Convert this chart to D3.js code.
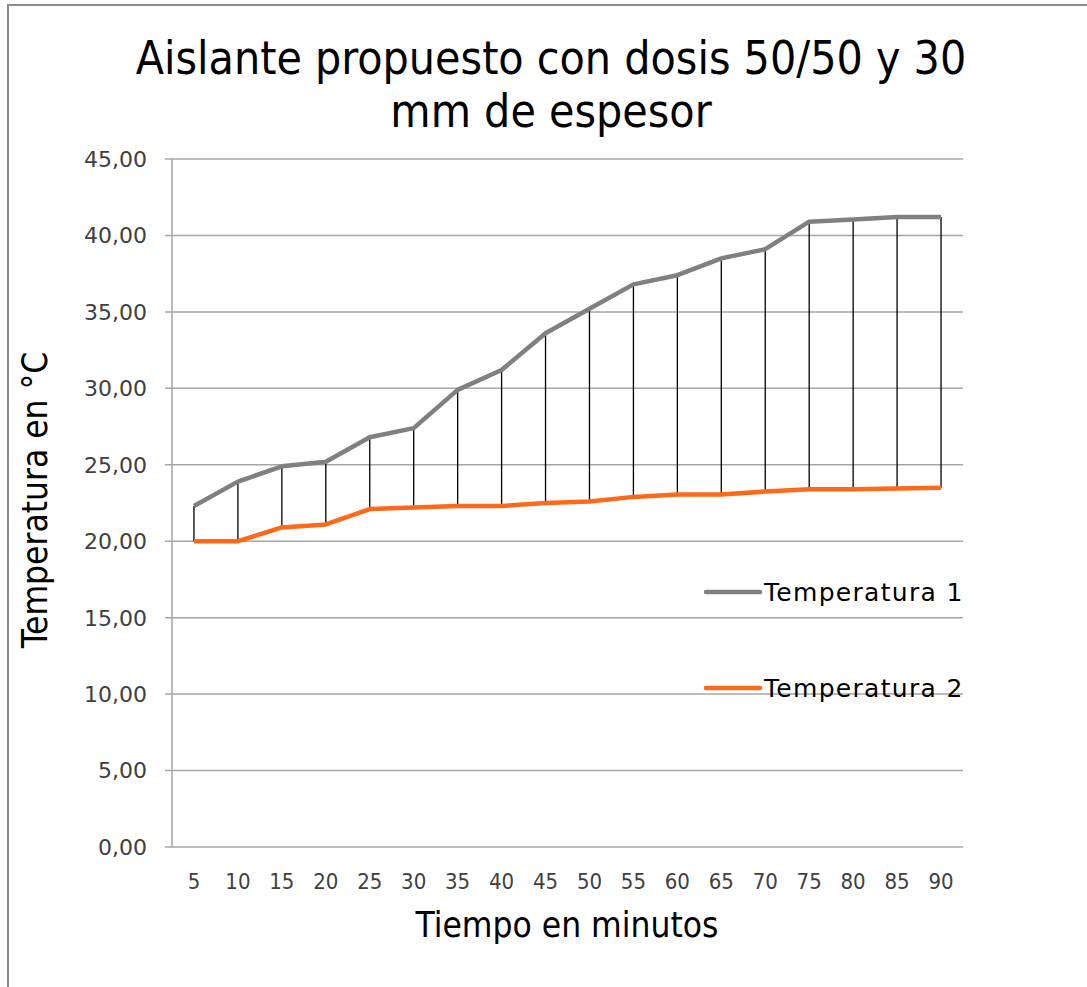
<!DOCTYPE html>
<html>
<head>
<meta charset="utf-8">
<script src="https://cdn.jsdelivr.net/npm/d3@7"></script>
<style>
  body { margin: 0; background: #fff; }
  svg { display: block; }
</style>
</head>
<body>
<svg width="1087" height="987"></svg>
<script>
var minutes = [5, 10, 15, 20, 25, 30, 35, 40, 45, 50, 55, 60, 65, 70, 75, 80, 85, 90];
var temp1 = [22.3, 23.9, 24.9, 25.2, 26.8, 27.4, 29.9, 31.2, 33.6, 35.2, 36.8, 37.4, 38.5, 39.1, 40.9, 41.05, 41.2, 41.2];
var temp2 = [20.0, 20.0, 20.9, 21.1, 22.1, 22.2, 22.3, 22.3, 22.5, 22.6, 22.9, 23.05, 23.05, 23.25, 23.4, 23.4, 23.45, 23.5];
var seriesNames = ["Temperatura 1", "Temperatura 2"];
var seriesColors = ["#7f7f84", "#ff6a1a"];
var yTicks = [0, 5, 10, 15, 20, 25, 30, 35, 40, 45];

var svg = d3.select("svg"),
    plotLeft = 172, plotRight = 963, plotTop = 159, plotBottom = 847;

var fmt = function (v) { return d3.format(".2f")(v).replace(".", ","); };

// frame
svg.append("rect")
    .attr("x", 8).attr("y", 5)
    .attr("width", 1200).attr("height", 1200)
    .attr("fill", "none")
    .attr("stroke", "#8c8c8c")
    .attr("stroke-width", 2);

var x = d3.scaleBand().domain(minutes).range([plotLeft, plotRight]);
var y = d3.scaleLinear().domain([0, 45]).range([plotBottom, plotTop]);

// grid
svg.append("g")
    .selectAll("line")
    .data(yTicks)
    .enter().append("line")
    .attr("x1", plotLeft - 7).attr("x2", plotRight)
    .attr("y1", function (d) { return y(d); })
    .attr("y2", function (d) { return y(d); })
    .attr("stroke", "#a6a6a6")
    .attr("stroke-width", 1.5);

svg.append("line")
    .attr("x1", plotLeft).attr("x2", plotLeft)
    .attr("y1", plotTop).attr("y2", plotBottom)
    .attr("stroke", "#a6a6a6")
    .attr("stroke-width", 1.5);

// y tick labels
svg.append("g")
    .selectAll("text")
    .data(yTicks)
    .enter().append("text")
    .attr("x", 147)
    .attr("y", function (d) { return y(d); })
    .attr("dy", "0.36em")
    .attr("text-anchor", "end")
    .attr("font-family", "DejaVu Sans, sans-serif")
    .attr("font-size", 22)
    .attr("fill", "#404040")
    .text(fmt);

// x tick labels
svg.append("g")
    .selectAll("text")
    .data(minutes)
    .enter().append("text")
    .attr("x", function (d) { return x(d) + x.bandwidth() / 2; })
    .attr("y", 889)
    .attr("text-anchor", "middle")
    .attr("font-family", "DejaVu Sans Condensed, sans-serif")
    .attr("font-size", 22)
    .attr("fill", "#404040")
    .text(function (d) { return d; });

// high-low lines
svg.append("g")
    .selectAll("line")
    .data(minutes)
    .enter().append("line")
    .attr("x1", function (d) { return x(d) + x.bandwidth() / 2; })
    .attr("x2", function (d) { return x(d) + x.bandwidth() / 2; })
    .attr("y1", function (d, i) { return y(temp1[i]); })
    .attr("y2", function (d, i) { return y(temp2[i]); })
    .attr("stroke", "#000")
    .attr("stroke-width", 1.3);

var line = d3.line()
    .x(function (d, i) { return x(minutes[i]) + x.bandwidth() / 2; })
    .y(function (d) { return y(d); });

[temp1, temp2].forEach(function (s, k) {
    svg.append("path")
        .datum(s)
        .attr("d", line)
        .attr("fill", "none")
        .attr("stroke", seriesColors[k])
        .attr("stroke-width", 4.5)
        .attr("stroke-linejoin", "round");
});

// legend
var legendY = [592, 688];
seriesNames.forEach(function (name, k) {
    svg.append("line")
        .attr("x1", 706).attr("x2", 760)
        .attr("y1", legendY[k]).attr("y2", legendY[k])
        .attr("stroke", seriesColors[k])
        .attr("stroke-width", 4.5)
        .attr("stroke-linecap", "round");
    svg.append("text")
        .attr("x", 764)
        .attr("y", legendY[k])
        .attr("dy", "0.36em")
        .attr("font-family", "DejaVu Sans, sans-serif")
        .attr("font-size", 25)
        .attr("letter-spacing", 1.3)
        .attr("fill", "#000")
        .text(name);
});

// titles
var title = svg.append("text")
    .attr("text-anchor", "middle")
    .attr("font-family", "DejaVu Sans Condensed, sans-serif")
    .attr("font-size", 46)
    .attr("fill", "#000");
title.append("tspan").attr("x", 551).attr("y", 74).text("Aislante propuesto con dosis 50/50 y 30");
title.append("tspan").attr("x", 551).attr("y", 127).text("mm de espesor");

svg.append("text")
    .attr("x", 567).attr("y", 937)
    .attr("text-anchor", "middle")
    .attr("font-family", "DejaVu Sans Condensed, sans-serif")
    .attr("font-size", 35)
    .attr("fill", "#000")
    .text("Tiempo en minutos");

svg.append("text")
    .attr("transform", "translate(47,500) rotate(-90)")
    .attr("text-anchor", "middle")
    .attr("font-family", "DejaVu Sans Condensed, sans-serif")
    .attr("font-size", 35)
    .attr("fill", "#000")
    .text("Temperatura en °C");
</script>
</body>
</html>
